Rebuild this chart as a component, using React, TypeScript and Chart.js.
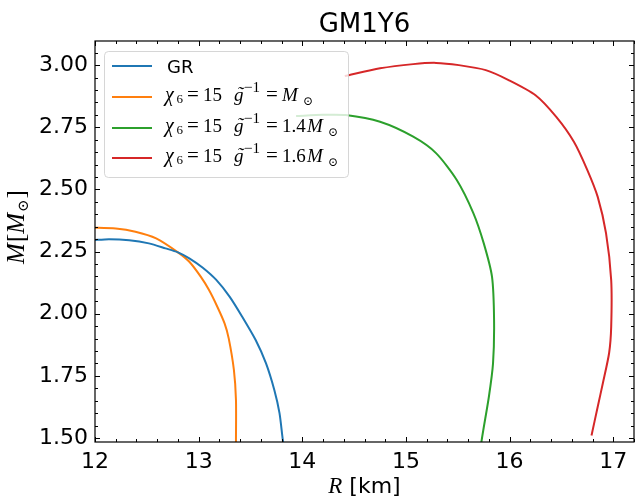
import React, { useEffect, useRef } from "react";
import { Chart, registerables } from "chart.js";

Chart.register(...registerables);

// Mass–radius curves (R in km, M in solar masses)
const grR = [11.9, 11.99, 12.135, 12.33, 12.52, 12.68, 12.8, 12.91, 13.04, 13.17, 13.3, 13.42, 13.55, 13.65, 13.73, 13.78, 13.81, 13.83];
const grM = [2.293, 2.296, 2.3, 2.296, 2.283, 2.263, 2.247, 2.223, 2.185, 2.136, 2.068, 1.988, 1.894, 1.8, 1.693, 1.6, 1.499, 1.44];

const g1R = [11.9, 11.99, 12.2, 12.39, 12.59, 12.8, 12.91, 13.02, 13.1, 13.18, 13.25, 13.29, 13.34, 13.36, 13.36, 13.36];
const g1M = [2.346, 2.346, 2.343, 2.33, 2.303, 2.247, 2.209, 2.149, 2.095, 2.028, 1.961, 1.901, 1.774, 1.653, 1.49, 1.44];

const g14R = [13.94, 14.2, 14.42, 14.75, 15.07, 15.29, 15.49, 15.65, 15.75, 15.83, 15.85, 15.84, 15.8, 15.73, 15.72];
const g14M = [2.795, 2.8, 2.799, 2.772, 2.712, 2.646, 2.538, 2.405, 2.284, 2.149, 1.975, 1.8, 1.666, 1.49, 1.44];

const g16R = [14.41, 14.75, 15.07, 15.29, 15.51, 15.77, 15.99, 16.25, 16.45, 16.62, 16.75, 16.85, 16.93, 16.98, 16.98, 16.96, 16.9, 16.85, 16.79];
const g16M = [2.956, 2.987, 3.004, 3.009, 3.0, 2.98, 2.94, 2.879, 2.792, 2.692, 2.578, 2.47, 2.324, 2.135, 1.948, 1.842, 1.721, 1.626, 1.51];

const xTicks = [12, 13, 14, 15, 16, 17];
const yTicks = [1.5, 1.75, 2.0, 2.25, 2.5, 2.75, 3.0];

const X_MIN = 12;
const X_MAX = 17.2;
const Y_MIN = 1.484;
const Y_MAX = 3.097;

const BLUE = "#1f77b4";
const ORANGE = "#ff7f0e";
const GREEN = "#2ca02c";
const RED = "#d62728";

const SANS = "'DejaVu Sans', sans-serif";
const SERIF = "'Liberation Serif', 'DejaVu Serif', serif";

const toPoints = (xs: number[], ys: number[]) => xs.map((x, i) => ({ x, y: ys[i] }));

// A piece of mixed-font text; `at` is an x offset from the start of the line
type Run = { t: string; font: string; dy?: number; gap?: number; at?: number; tilde?: boolean };

function runsWidth(ctx: CanvasRenderingContext2D, runs: Run[]) {
  let w = 0;
  for (const r of runs) {
    ctx.font = r.font;
    w += (r.gap || 0) + ctx.measureText(r.t).width;
  }
  return w;
}

function drawRuns(ctx: CanvasRenderingContext2D, runs: Run[], x: number, y: number) {
  let cx = x;
  ctx.textAlign = "left";
  ctx.textBaseline = "alphabetic";
  for (const r of runs) {
    if (r.at !== undefined) cx = x + r.at;
    cx += r.gap || 0;
    ctx.font = r.font;
    const w = ctx.measureText(r.t).width;
    ctx.fillText(r.t, cx, y + (r.dy || 0));
    if (r.tilde) {
      ctx.textAlign = "center";
      ctx.fillText("\u02DC", cx + w / 2 + 1.5, y - 1);
      ctx.textAlign = "left";
    }
    cx += w;
  }
  return cx;
}

const MATH = 19;
const it = (s: number) => `italic ${s}px ${SERIF}`;
const rm = (s: number) => `${s}px ${SERIF}`;
const sym = (s: number) => `${s}px 'DejaVu Serif', serif`;

function gammaRuns(mass: string): Run[] {
  const runs: Run[] = [
    { t: "\u03C7", font: it(20), at: 0 },
    { t: "6", font: rm(13), dy: 2, at: 11.5 },
    { t: "=", font: rm(21), at: 22 },
    { t: "15", font: rm(MATH), at: 38 },
    { t: "g", font: it(MATH), at: 69, tilde: true },
    { t: "\u22121", font: rm(15), dy: -9, at: 79 },
    { t: "=", font: rm(21), at: 101 },
  ];
  if (mass) {
    runs.push({ t: mass, font: rm(MATH), at: 117 });
    runs.push({ t: "M", font: it(MATH), at: 142 });
    runs.push({ t: "\u2299", font: sym(12), dy: 4, at: 163 });
  } else {
    runs.push({ t: "M", font: it(MATH), at: 117 });
    runs.push({ t: "\u2299", font: sym(12), dy: 4, at: 138 });
  }
  return runs;
}

const legendItems: { color: string; label: string; runs: Run[] | null }[] = [
  { color: BLUE, label: "GR", runs: null },
  { color: ORANGE, label: "", runs: gammaRuns("") },
  { color: GREEN, label: "", runs: gammaRuns("1.4") },
  { color: RED, label: "", runs: gammaRuns("1.6") },
];

const decorations = {
  id: "decorations",
  afterDatasetsDraw(chart: any) {
    const ctx: CanvasRenderingContext2D = chart.ctx;
    // legend box
    ctx.save();
    const bx = 104.5, by = 51.5, bw = 244, bh = 126, r = 4;
    ctx.beginPath();
    ctx.moveTo(bx + r, by);
    ctx.arcTo(bx + bw, by, bx + bw, by + bh, r);
    ctx.arcTo(bx + bw, by + bh, bx, by + bh, r);
    ctx.arcTo(bx, by + bh, bx, by, r);
    ctx.arcTo(bx, by, bx + bw, by, r);
    ctx.closePath();
    ctx.fillStyle = "rgba(255,255,255,0.8)";
    ctx.fill();
    ctx.strokeStyle = "rgba(204,204,204,0.8)";
    ctx.lineWidth = 1;
    ctx.stroke();

    const rows = [66, 97, 128, 158];
    legendItems.forEach((item, i) => {
      const yy = rows[i];
      ctx.strokeStyle = item.color;
      ctx.lineWidth = 2;
      ctx.beginPath();
      ctx.moveTo(112, yy);
      ctx.lineTo(152, yy);
      ctx.stroke();
      ctx.fillStyle = "#000";
      if (item.runs) {
        drawRuns(ctx, item.runs, 165, yy + 4);
      } else {
        ctx.font = `18px ${SANS}`;
        ctx.textAlign = "left";
        ctx.textBaseline = "alphabetic";
        ctx.fillText(item.label, 167, yy + 7);
      }
    });
    ctx.restore();
  },
  afterDraw(chart: any) {
    const ctx: CanvasRenderingContext2D = chart.ctx;
    const { left, right, top, bottom } = chart.chartArea;
    const xs = chart.scales.x;
    const ys = chart.scales.y;
    ctx.save();
    ctx.strokeStyle = "#000";
    ctx.lineWidth = 1.2;
    ctx.strokeRect(left, top, right - left, bottom - top);

    ctx.lineWidth = 1;
    const tick = (x1: number, y1: number, x2: number, y2: number) => {
      ctx.beginPath();
      ctx.moveTo(x1, y1);
      ctx.lineTo(x2, y2);
      ctx.stroke();
    };
    // x ticks (inward, bottom and top)
    for (let k = 0; k <= 26; k++) {
      const v = X_MIN + k * 0.2;
      if (v > X_MAX + 1e-9) break;
      const px = Math.round(xs.getPixelForValue(v)) + 0.5;
      const len = k % 5 === 0 ? 5 : 3;
      tick(px, bottom, px, bottom - len);
      tick(px, top, px, top + len);
    }
    // y ticks (inward, left and right)
    for (let k = 0; k <= 40; k++) {
      const v = 1.5 + k * 0.05;
      if (v > Y_MAX) break;
      const py = Math.round(ys.getPixelForValue(v)) + 0.5;
      const len = k % 5 === 0 ? 5 : 3;
      tick(left, py, left + len, py);
      tick(right, py, right - len, py);
    }

    ctx.fillStyle = "#000";
    // title
    ctx.font = `26px ${SANS}`;
    ctx.textAlign = "center";
    ctx.textBaseline = "alphabetic";
    ctx.fillText("GM1Y6", (left + right) / 2, 31.5);

    // x axis title
    const xRuns: Run[] = [
      { t: "R", font: it(23) },
      { t: " [km]", font: `22px ${SANS}` },
    ];
    const xw = runsWidth(ctx, xRuns);
    drawRuns(ctx, xRuns, (left + right) / 2 - xw / 2, 493);

    // y axis title
    const yRuns: Run[] = [
      { t: "M", font: it(25) },
      { t: "[", font: rm(25), gap: 1 },
      { t: "M", font: it(25) },
      { t: "\u2299", font: sym(15), dy: 4, gap: 1 },
      { t: "]", font: rm(25), gap: 1 },
    ];
    const yw = runsWidth(ctx, yRuns);
    ctx.translate(24, 227);
    ctx.rotate(-Math.PI / 2);
    drawRuns(ctx, yRuns, -yw / 2, 0);
    ctx.restore();
  },
};

const line = (data: { x: number; y: number }[], color: string) => ({
  data,
  borderColor: color,
  backgroundColor: color,
  borderWidth: 2,
  pointRadius: 0,
  showLine: true,
  tension: 0.25,
  fill: false,
});

export default function App() {
  const ref = useRef<HTMLCanvasElement | null>(null);
  useEffect(() => {
    if (!ref.current) return;
    const chart = new Chart(ref.current, {
      type: "scatter",
      data: {
        datasets: [
          line(toPoints(grR, grM), BLUE),
          line(toPoints(g1R, g1M), ORANGE),
          line(toPoints(g14R, g14M), GREEN),
          line(toPoints(g16R, g16M), RED),
        ] as any,
      },
      options: {
        responsive: false,
        animation: false,
        devicePixelRatio: 1,
        layout: { padding: { top: 41, right: 1, left: 0, bottom: 0 } },
        plugins: { legend: { display: false }, tooltip: { enabled: false }, title: { display: false } },
        scales: {
          x: {
            type: "linear",
            min: X_MIN,
            max: X_MAX,
            grid: { display: false, drawTicks: false, tickLength: 0 },
            border: { display: false },
            afterBuildTicks: (s: any) => {
              s.ticks = xTicks.map((v) => ({ value: v }));
            },
            afterFit: (s: any) => {
              s.height = 56;
            },
            ticks: {
              autoSkip: false,
              maxRotation: 0,
              padding: 7,
              color: "#000",
              font: { family: SANS, size: 22 },
              callback: (v: any) => String(v),
            },
          },
          y: {
            type: "linear",
            min: Y_MIN,
            max: Y_MAX,
            grid: { display: false, drawTicks: false, tickLength: 0 },
            border: { display: false },
            afterBuildTicks: (s: any) => {
              s.ticks = yTicks.map((v) => ({ value: v }));
            },
            afterFit: (s: any) => {
              s.width = 95;
            },
            ticks: {
              autoSkip: false,
              padding: 7,
              color: "#000",
              font: { family: SANS, size: 22 },
              callback: (v: any) => Number(v).toFixed(2),
            },
          },
        },
      },
      plugins: [decorations],
    });
    return () => chart.destroy();
  }, []);

  return (
    <div style={{ position: "absolute", left: 0, top: 0, width: 635, height: 498, background: "#fff" }}>
      <canvas ref={ref} width={635} height={498} style={{ display: "block" }} />
    </div>
  );
}
